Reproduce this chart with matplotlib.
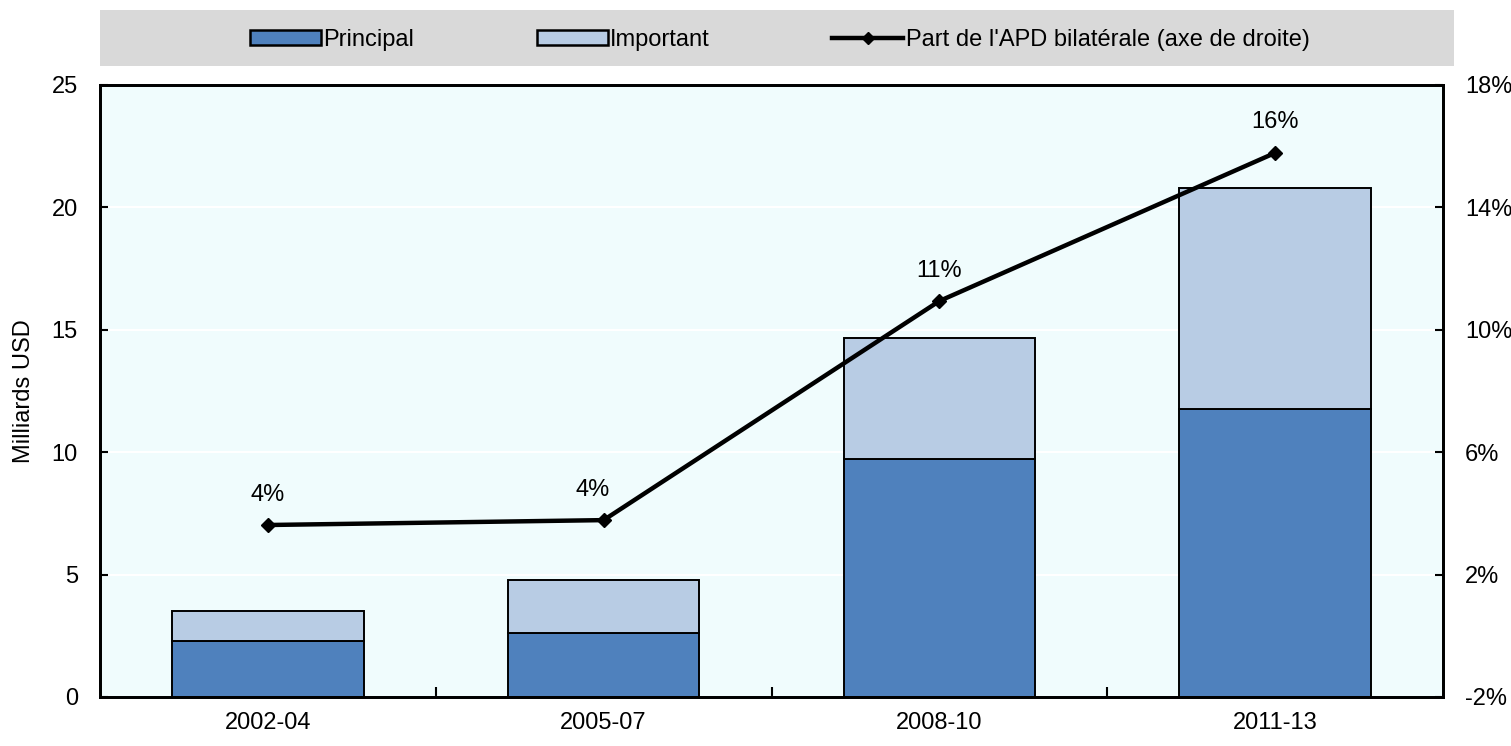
import matplotlib.pyplot as plt
from matplotlib.patches import Rectangle, Patch
from matplotlib.lines import Line2D
from matplotlib.ticker import FuncFormatter

plt.rcParams['font.family'] = ['Liberation Sans Narrow', 'Liberation Sans', 'DejaVu Sans']
plt.rcParams['font.size'] = 17

periods = ["2002-04", "2005-07", "2008-10", "2011-13"]
principal = [2.29, 2.61, 9.72, 11.76]
important = [1.22, 2.17, 4.95, 9.03]
share_pct = [3.62, 3.78, 10.94, 15.78]

blue = "#4f81bd"
light_blue = "#b8cce4"

fig = plt.figure(figsize=(15.11, 7.46), dpi=100)
ax = fig.add_axes([0.0662, 0.0657, 0.8888, 0.8204])
ax.set_facecolor("#f0fcfd")

x = list(range(len(periods)))
ax.bar(x, principal, width=0.57, color=blue, edgecolor="black", linewidth=1.4, zorder=3)
ax.bar(x, important, width=0.57, bottom=principal, color=light_blue,
       edgecolor="black", linewidth=1.4, zorder=3)

ax.set_xlim(-0.5, 3.5)
ax.set_ylim(0, 25)
ax.set_yticks(range(0, 26, 5))
ax.set_xticks(x)
ax.set_xticklabels(periods)
ax.set_xticks([0.5, 1.5, 2.5], minor=True)
ax.tick_params(axis="x", which="major", length=0, pad=11)
ax.tick_params(axis="x", which="minor", direction="in", length=7, width=1.5)
ax.tick_params(axis="y", direction="in", length=6, width=1.5, pad=16)
ax.grid(axis="y", color="white", linewidth=1.5, zorder=0)
ax.set_ylabel("Milliards USD", labelpad=12)
for s in ax.spines.values():
    s.set_linewidth(2)

ax2 = ax.twinx()
ax2.set_ylim(-2, 18)
ax2.set_yticks(range(-2, 19, 4))
ax2.yaxis.set_major_formatter(FuncFormatter(lambda v, p: f"{v:.0f}%"))
ax2.tick_params(axis="y", direction="in", length=6, width=1.5, pad=16)
for s in ax2.spines.values():
    s.set_linewidth(2)
ax2.plot(x, share_pct, color="black", linewidth=3.2, marker="D", markersize=7, zorder=5)
offsets = [0, -8, 0, 0]
for xi, v, dx in zip(x, share_pct, offsets):
    ax2.annotate(f"{v:.0f}%", (xi, v), xytext=(dx, 14), textcoords="offset points",
                 ha="center", va="bottom")

# legend band
fig.patches.append(Rectangle((0.0662, 0.9115), 0.8960, 0.0750, transform=fig.transFigure,
                             facecolor="#d9d9d9", edgecolor="none", zorder=0))
handles = [
    Patch(facecolor=blue, edgecolor="black", linewidth=1.8),
    Patch(facecolor=light_blue, edgecolor="black", linewidth=1.8),
    Line2D([], [], color="black", linewidth=3.2, marker="D", markersize=6),
]
labels = ["Principal", "Important", "Part de l'APD bilatérale (axe de droite)"]
fig.legend(handles, labels, loc="center", bbox_to_anchor=(0.516, 0.947), ncol=3,
           frameon=False, handlelength=3.0, handleheight=0.6, handletextpad=0.1,
           columnspacing=5.2, borderpad=0)

fig.savefig("out.png", dpi=100)
